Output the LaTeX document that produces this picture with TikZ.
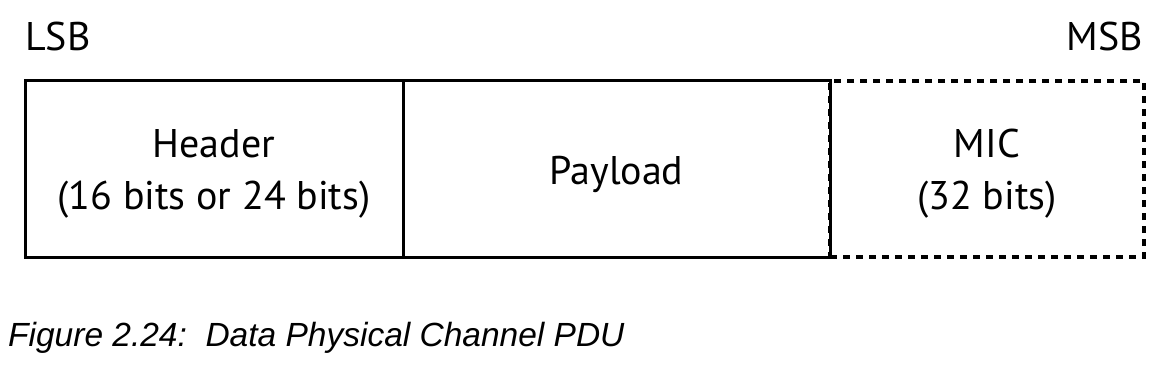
\documentclass[tikz,border=0pt]{standalone}
\usepackage{fontspec}
\setmainfont{PT Sans}
\newfontfamily\capfont{Liberation Sans}
\usetikzlibrary{positioning}

\begin{document}
\begin{tikzpicture}[
  field/.style    = {draw, rectangle, line width=3pt, outer sep=0pt, inner sep=0pt,
                     minimum height=176pt},
  optfield/.style = {field, line width=4.5pt, dash pattern=on 7pt off 6pt},
  fieldtext/.style= {inner sep=0pt, align=center, font=\fontsize{40}{52}\selectfont},
  endlabel/.style = {inner sep=0pt, font=\fontsize{40}{48}\selectfont},
]
  \useasboundingbox (0pt,0pt) rectangle (1174pt,-366pt);

%--- PDU fields ---
  \node[field, minimum width=378pt, anchor=north west] (hdr) at (25pt,-81pt) {};
  \node[field, minimum width=427pt, right=0pt of hdr]    (pld) {};
  \node[optfield, minimum width=314pt, right=0pt of pld] (mic) {};

  \node[fieldtext] (hdrtxt) at ([yshift=-5pt]hdr.center) {Header\\(16 bits or 24 bits)};
  \node[fieldtext] (pldtxt) at ([yshift=-5pt]pld.center) {Payload};
  \node[fieldtext] (mictxt) at ([yshift=-5pt]mic.center) {MIC\\(32 bits)};

%--- bit order ---
  \node[endlabel, anchor=base west] (lsb) at (25pt,-51pt)   {LSB};
  \node[endlabel, anchor=base east] (msb) at (1143pt,-51pt) {MSB};

%--- caption ---
  \node[inner sep=0pt, anchor=base west, font=\capfont\itshape\fontsize{33.5}{38}\selectfont]
        (cap) at (8pt,-346pt) {Figure 2.24:\ \ Data Physical Channel PDU};
\end{tikzpicture}
\end{document}
